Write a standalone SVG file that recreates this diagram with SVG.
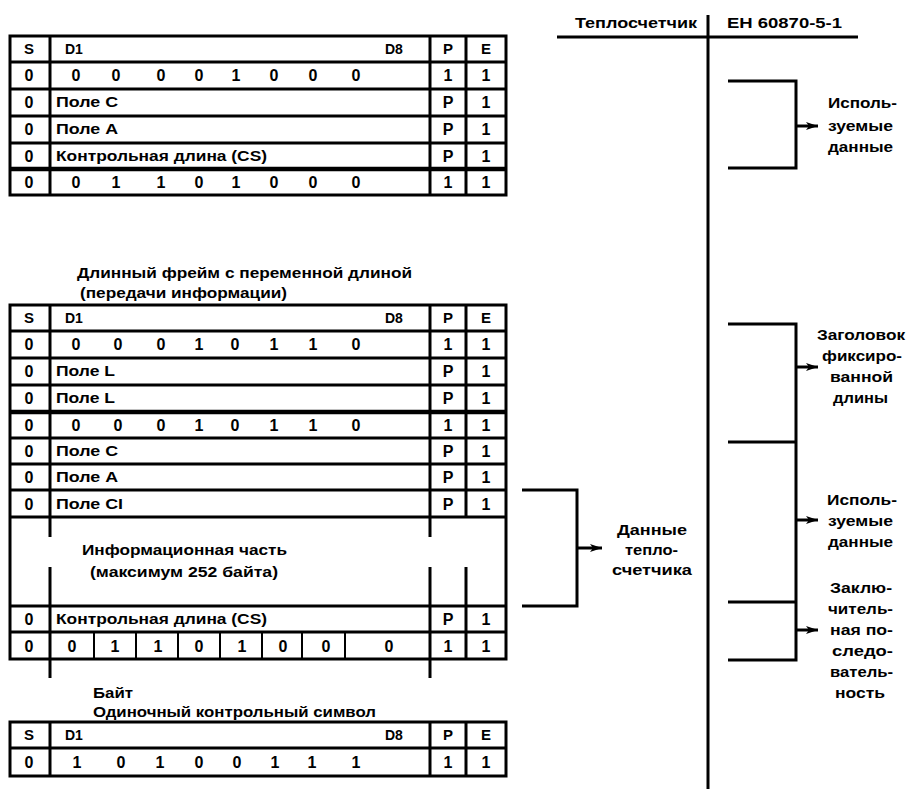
<svg xmlns="http://www.w3.org/2000/svg" width="906" height="789" viewBox="0 0 906 789">
<defs>
<style>
.ln{stroke:#000;stroke-width:3;fill:none}
.th{stroke:#000;stroke-width:4.5;fill:none}
.tn{stroke:#000;stroke-width:2;fill:none}
text{font-family:"Liberation Sans",Arial,sans-serif;font-weight:bold;fill:#000}
.t{font-size:14px}
.d{font-size:16px;text-anchor:middle}
.c{font-size:15px;text-anchor:middle}
</style>
<marker id="ah" viewBox="0 0 12 8" refX="12" refY="4" markerWidth="12" markerHeight="8" markerUnits="userSpaceOnUse" orient="auto">
<path d="M0,0 L12,4 L0,8 L3,4 z" fill="#000"/>
</marker>
</defs>
<rect width="906" height="789" fill="#fff"/>

<!-- Top table: short frame -->
<g id="short-frame">
<rect class="ln" x="10" y="36" width="496" height="159"/>
<path class="ln" d="M10,62H506M10,89H506M10,116H506M10,143H506M50,36V195M430,36V195M466,36V195"/>
<path class="th" d="M10,169H506"/>
<text class="c" x="29" y="54">S</text>
<text class="t" x="65" y="54">D1</text>
<text class="t" x="385" y="54">D8</text>
<text class="c" x="448" y="54">P</text>
<text class="c" x="486" y="54">E</text>
<g class="d-row">
<text class="d" x="29" y="81">0</text>
<text class="d" x="76" y="81">0</text><text class="d" x="116" y="81">0</text><text class="d" x="161" y="81">0</text><text class="d" x="199" y="81">0</text><text class="d" x="236" y="81">1</text><text class="d" x="274" y="81">0</text><text class="d" x="313" y="81">0</text><text class="d" x="356" y="81">0</text>
<text class="d" x="448" y="81">1</text><text class="d" x="486" y="81">1</text>
</g>
<text class="d" x="29" y="108">0</text><text class="t" x="56" y="107" textLength="62" lengthAdjust="spacingAndGlyphs">Поле C</text><text class="d" x="448" y="108">P</text><text class="d" x="486" y="108">1</text>
<text class="d" x="29" y="135">0</text><text class="t" x="56" y="134" textLength="62" lengthAdjust="spacingAndGlyphs">Поле A</text><text class="d" x="448" y="135">P</text><text class="d" x="486" y="135">1</text>
<text class="d" x="29" y="162">0</text><text class="t" x="56" y="161" textLength="211" lengthAdjust="spacingAndGlyphs">Контрольная длина (CS)</text><text class="d" x="448" y="162">P</text><text class="d" x="486" y="162">1</text>
<text class="d" x="29" y="188">0</text>
<text class="d" x="76" y="188">0</text><text class="d" x="116" y="188">1</text><text class="d" x="161" y="188">1</text><text class="d" x="199" y="188">0</text><text class="d" x="236" y="188">1</text><text class="d" x="274" y="188">0</text><text class="d" x="313" y="188">0</text><text class="d" x="356" y="188">0</text>
<text class="d" x="448" y="188">1</text><text class="d" x="486" y="188">1</text>
</g>

<!-- Middle table: long frame -->
<g id="long-frame">
<text class="t" x="77" y="278" textLength="335" lengthAdjust="spacingAndGlyphs">Длинный фрейм с переменной длиной</text>
<text class="t" x="80" y="298" textLength="207" lengthAdjust="spacingAndGlyphs">(передачи информации)</text>
<rect class="ln" x="10" y="305" width="496" height="354"/>
<path class="ln" d="M10,331H506M10,358H506M10,385H506M10,438H506M10,464H506M10,490H506M10,517H506M10,606H506M10,632H506"/>
<path class="th" d="M10,412H506"/>
<path class="ln" d="M50,305V537M50,567V678M430,305V537M430,567V678M466,305V517M466,567V659"/>
<path class="tn" d="M94,632V659M136,632V659M178,632V659M220,632V659M262,632V659M302,632V659M345,632V659"/>
<text class="c" x="29" y="323">S</text>
<text class="t" x="65" y="323">D1</text>
<text class="t" x="385" y="323">D8</text>
<text class="c" x="448" y="323">P</text>
<text class="c" x="486" y="323">E</text>
<text class="d" x="29" y="350">0</text>
<text class="d" x="76" y="350">0</text><text class="d" x="118" y="350">0</text><text class="d" x="161" y="350">0</text><text class="d" x="199" y="350">1</text><text class="d" x="235" y="350">0</text><text class="d" x="274" y="350">1</text><text class="d" x="313" y="350">1</text><text class="d" x="356" y="350">0</text>
<text class="d" x="448" y="350">1</text><text class="d" x="486" y="350">1</text>
<text class="d" x="29" y="377">0</text><text class="t" x="56" y="376" textLength="59" lengthAdjust="spacingAndGlyphs">Поле L</text><text class="d" x="448" y="377">P</text><text class="d" x="486" y="377">1</text>
<text class="d" x="29" y="404">0</text><text class="t" x="56" y="403" textLength="59" lengthAdjust="spacingAndGlyphs">Поле L</text><text class="d" x="448" y="404">P</text><text class="d" x="486" y="404">1</text>
<text class="d" x="29" y="431">0</text>
<text class="d" x="76" y="431">0</text><text class="d" x="118" y="431">0</text><text class="d" x="161" y="431">0</text><text class="d" x="199" y="431">1</text><text class="d" x="235" y="431">0</text><text class="d" x="274" y="431">1</text><text class="d" x="313" y="431">1</text><text class="d" x="356" y="431">0</text>
<text class="d" x="448" y="431">1</text><text class="d" x="486" y="431">1</text>
<text class="d" x="29" y="457">0</text><text class="t" x="56" y="456" textLength="62" lengthAdjust="spacingAndGlyphs">Поле C</text><text class="d" x="448" y="457">P</text><text class="d" x="486" y="457">1</text>
<text class="d" x="29" y="483">0</text><text class="t" x="56" y="482" textLength="62" lengthAdjust="spacingAndGlyphs">Поле A</text><text class="d" x="448" y="483">P</text><text class="d" x="486" y="483">1</text>
<text class="d" x="29" y="510">0</text><text class="t" x="56" y="509" textLength="67" lengthAdjust="spacingAndGlyphs">Поле CI</text><text class="d" x="448" y="510">P</text><text class="d" x="486" y="510">1</text>
<text class="t" x="82" y="555" textLength="205" lengthAdjust="spacingAndGlyphs">Информационная часть</text>
<text class="t" x="90" y="577" textLength="188" lengthAdjust="spacingAndGlyphs">(максимум 252 байта)</text>
<text class="d" x="29" y="625">0</text><text class="t" x="56" y="624" textLength="211" lengthAdjust="spacingAndGlyphs">Контрольная длина (CS)</text><text class="d" x="448" y="625">P</text><text class="d" x="486" y="625">1</text>
<text class="d" x="29" y="652">0</text>
<text class="d" x="72" y="652">0</text><text class="d" x="115" y="652">1</text><text class="d" x="158" y="652">1</text><text class="d" x="199" y="652">0</text><text class="d" x="242" y="652">1</text><text class="d" x="283" y="652">0</text><text class="d" x="326" y="652">0</text><text class="d" x="389" y="652">0</text>
<text class="d" x="448" y="652">1</text><text class="d" x="486" y="652">1</text>
</g>

<!-- Bottom table: single control character -->
<g id="single-char">
<text class="t" x="93" y="698" textLength="40" lengthAdjust="spacingAndGlyphs">Байт</text>
<text class="t" x="93" y="717" textLength="283" lengthAdjust="spacingAndGlyphs">Одиночный контрольный символ</text>
<rect class="ln" x="10" y="722" width="496" height="54"/>
<path class="ln" d="M10,748H506M50,722V776M430,722V776M466,722V776"/>
<text class="c" x="29" y="740">S</text>
<text class="t" x="65" y="740">D1</text>
<text class="t" x="385" y="740">D8</text>
<text class="c" x="448" y="740">P</text>
<text class="c" x="486" y="740">E</text>
<text class="d" x="29" y="768">0</text>
<text class="d" x="77" y="768">1</text><text class="d" x="121" y="768">0</text><text class="d" x="160" y="768">1</text><text class="d" x="199" y="768">0</text><text class="d" x="237" y="768">0</text><text class="d" x="275" y="768">1</text><text class="d" x="312" y="768">1</text><text class="d" x="356" y="768">1</text>
<text class="d" x="448" y="768">1</text><text class="d" x="486" y="768">1</text>
</g>

<!-- Header of the right side -->
<g id="header">
<text class="t" x="575" y="28" textLength="122" lengthAdjust="spacingAndGlyphs">Теплосчетчик</text>
<text class="t" x="727" y="28" textLength="115" lengthAdjust="spacingAndGlyphs">ЕН 60870-5-1</text>
</g>

<!-- Connectors -->
<g id="connectors">
<path class="ln" d="M557,37H858M708,15V789"/>
<path class="ln" d="M728,81H796V168H728"/>
<path class="ln" d="M796,126H818" marker-end="url(#ah)"/>
<path class="ln" d="M728,324H796V660H728M728,442H796M728,602H796"/>
<path class="ln" d="M796,367H818" marker-end="url(#ah)"/>
<path class="ln" d="M796,520H818" marker-end="url(#ah)"/>
<path class="ln" d="M796,630H818" marker-end="url(#ah)"/>
<path class="ln" d="M522,490H577V606H522"/>
<path class="ln" d="M577,548H602" marker-end="url(#ah)"/>
</g>

<!-- Labels -->
<g id="label-used-data-1">
<text class="t" x="828" y="108" textLength="69" lengthAdjust="spacingAndGlyphs">Исполь-</text>
<text class="t" x="828" y="131" textLength="65" lengthAdjust="spacingAndGlyphs">зуемые</text>
<text class="t" x="828" y="152" textLength="65" lengthAdjust="spacingAndGlyphs">данные</text>
</g>
<g id="label-header">
<text class="t" x="817" y="340" textLength="88" lengthAdjust="spacingAndGlyphs">Заголовок</text>
<text class="t" x="822" y="361" textLength="80" lengthAdjust="spacingAndGlyphs">фиксиро-</text>
<text class="t" x="830" y="382" textLength="63" lengthAdjust="spacingAndGlyphs">ванной</text>
<text class="t" x="833" y="403" textLength="55" lengthAdjust="spacingAndGlyphs">длины</text>
</g>
<g id="label-used-data-2">
<text class="t" x="827" y="505" textLength="70" lengthAdjust="spacingAndGlyphs">Исполь-</text>
<text class="t" x="828" y="526" textLength="65" lengthAdjust="spacingAndGlyphs">зуемые</text>
<text class="t" x="828" y="547" textLength="65" lengthAdjust="spacingAndGlyphs">данные</text>
</g>
<g id="label-end">
<text class="t" x="830" y="593" textLength="62" lengthAdjust="spacingAndGlyphs">Заклю-</text>
<text class="t" x="828" y="614" textLength="65" lengthAdjust="spacingAndGlyphs">читель-</text>
<text class="t" x="830" y="635" textLength="63" lengthAdjust="spacingAndGlyphs">ная по-</text>
<text class="t" x="832" y="656" textLength="61" lengthAdjust="spacingAndGlyphs">следо-</text>
<text class="t" x="830" y="677" textLength="63" lengthAdjust="spacingAndGlyphs">ватель-</text>
<text class="t" x="835" y="698" textLength="50" lengthAdjust="spacingAndGlyphs">ность</text>
</g>
<g id="label-meter-data">
<text class="t" x="617" y="535" textLength="70" lengthAdjust="spacingAndGlyphs">Данные</text>
<text class="t" x="625" y="555" textLength="53" lengthAdjust="spacingAndGlyphs">тепло-</text>
<text class="t" x="612" y="575" textLength="80" lengthAdjust="spacingAndGlyphs">счетчика</text>
</g>
</svg>
